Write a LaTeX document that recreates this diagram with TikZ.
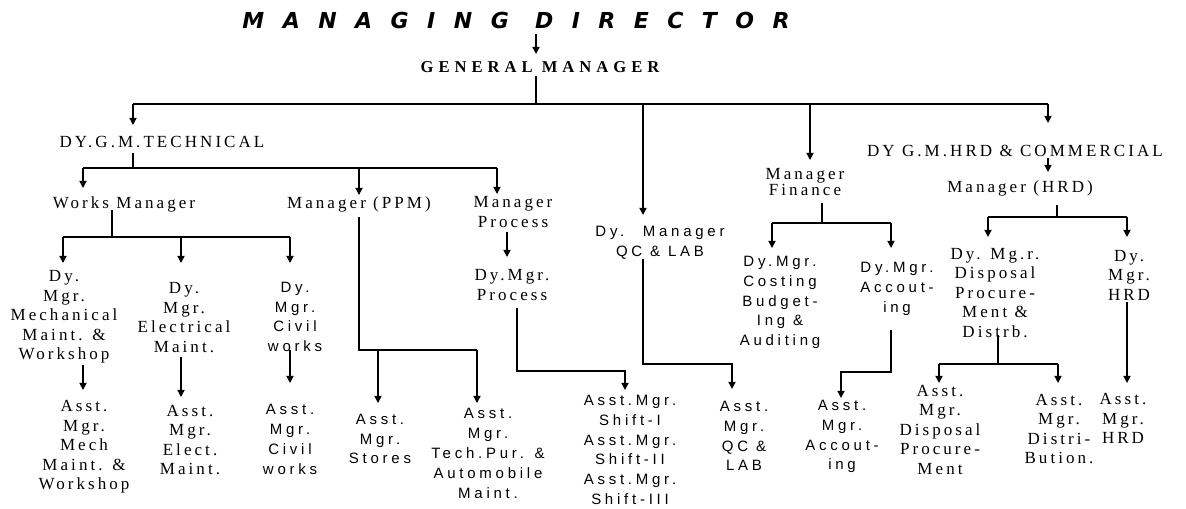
\documentclass[tikz,border=0pt]{standalone}
\usepackage{fontspec}
\setmainfont{Liberation Serif}
\newfontfamily\sfx[LetterSpace=25]{Liberation Sans}
\newfontfamily\rmx[LetterSpace=18]{Liberation Serif}
\newfontfamily\gmx[LetterSpace=30]{Liberation Serif}
\newfontfamily\mdx[LetterSpace=84]{DejaVu Sans}
\usetikzlibrary{arrows.meta}
\tikzset{
  rmt/.style={font=\rmx\fontsize{8.5}{9.75}\selectfont, align=center, inner sep=0pt},
  sft/.style={font=\sfx\fontsize{7.5}{9.9}\selectfont, align=center, inner sep=0pt},
  ln/.style={line width=0.7pt},
  arr/.style={line width=0.7pt, -{Triangle[width=3.6pt,length=3.6pt]}}
}
\begin{document}
\begin{tikzpicture}[x=0.5pt,y=-0.5pt]
\fill[white] (0,0) rectangle (1186,508);
\useasboundingbox (0,0) rectangle (1186,508);
% top
\node[inner sep=0pt, font=\mdx\bfseries\itshape\fontsize{11}{12}\selectfont] (md) at (516,20) {MANAGING DIRECTOR};
\node[inner sep=0pt, font=\gmx\bfseries\fontsize{8.3}{9}\selectfont] (gm) at (540,67) {GENERAL MANAGER};
% level 2
\node[rmt] (dgmt) at (162,142) {DY.G.M.TECHNICAL};
\node[sft] (qc) at (660,243) {Dy.~ Manager\\QC \& LAB};
\node[rmt, font=\rmx\fontsize{8.5}{7.2}\selectfont] (fin) at (805,182) {Manager\\Finance};
\node[rmt] (dgmh) at (1015,151) {DY G.M.HRD \& COMMERCIAL};
\node[rmt] (mhrd) at (1020,188) {Manager (HRD)};
% level 3
\node[rmt] (wm) at (124,204) {Works Manager};
\node[rmt] (ppm) at (359,204) {Manager (PPM)};
\node[rmt] (mp) at (513,212) {Manager\\Process};
\node[rmt] (dmp) at (512,285) {Dy.Mgr.\\Process};
% works
\node[rmt] (dmm) at (64,317) {Dy.\\Mgr.\\Mechanical\\Maint. \&\\Workshop};
\node[rmt] (dme) at (184,317.5) {Dy.\\Mgr.\\Electrical\\Maint.};
\node[sft] (dmc) at (295,317) {Dy.\\Mgr.\\Civil\\works};
\node[rmt] (amm) at (84,447) {Asst.\\Mgr.\\Mech\\Maint. \&\\Workshop};
\node[rmt] (ame) at (190,440) {Asst.\\Mgr.\\Elect.\\Maint.};
\node[sft] (amc) at (290,439.5) {Asst.\\Mgr.\\Civil\\works};
\node[sft] (ams) at (380,439) {Asst.\\Mgr.\\Stores};
\node[sft] (amt) at (488,453.5) {Asst.\\Mgr.\\Tech.Pur. \&\\Automobile\\Maint.};
\node[sft] (ash) at (630,450) {Asst.Mgr.\\Shift-I\\Asst.Mgr.\\Shift-II\\Asst.Mgr.\\Shift-III};
\node[sft] (aqc) at (744,436) {Asst.\\Mgr.\\QC \&\\LAB};
% finance
\node[sft] (dcb) at (780,302.5) {Dy.Mgr.\\Costing\\Budget-\\Ing \&\\Auditing};
\node[sft] (dac) at (897,289) {Dy.Mgr.\\Accout-\\ing};
\node[sft] (aac) at (842,436.5) {Asst.\\Mgr.\\Accout-\\ing};
% hrd
\node[rmt] (ddp) at (995,293) {Dy. Mg.r.\\Disposal\\Procure-\\Ment \&\\Distrb.};
\node[rmt] (dhrd) at (1129,275) {Dy.\\Mgr.\\HRD};
\node[rmt] (adp) at (940,429.5) {Asst.\\Mgr.\\Disposal\\Procure-\\Ment};
\node[rmt] (adi) at (1059,429) {Asst.\\Mgr.\\Distri-\\Bution.};
\node[rmt] (ahrd) at (1123,418.5) {Asst.\\Mgr.\\HRD};

% connectors
\draw[arr] (536,34) -- (536,54);
\coordinate (b1) at (536,104);
\draw[ln] (536,76) -- (b1);
\draw[ln] (133,104) -- (1048,104);
\draw[arr] (133,104) -- (133,125);
\draw[arr] (643,104) -- (643,215);
\draw[arr] (810,104) -- (810,160);
\draw[arr] (1048,104) -- (1048,123);
% technical
\draw[ln] (133,153) -- (133,168);
\draw[ln] (83,168) -- (497,168);
\draw[arr] (83,168) -- (83,188);
\draw[arr] (359,168) -- (359,195);
\draw[arr] (497,168) -- (497,194);
% works manager
\draw[ln] (112,210) -- (112,237);
\draw[ln] (63,237) -- (290,237);
\draw[arr] (63,237) -- (63,263);
\draw[arr] (181,237) -- (181,263);
\draw[arr] (290,237) -- (290,263);
\draw[arr] (83,365) -- (83,390);
\draw[arr] (181,357) -- (181,397);
\draw[arr] (290,350) -- (290,383);
% ppm
\draw[ln] (359,217) -- (359,350) -- (477,350);
\draw[arr] (378,350) -- (378,403);
\draw[arr] (477,350) -- (477,403);
% process
\draw[arr] (507,232) -- (507,257);
\draw[arr] (517,308) -- (517,371) -- (625,371) -- (625,390);
% qc
\draw[arr] (643,259) -- (643,364) -- (732,364) -- (732,389);
% finance
\draw[ln] (822,203) -- (822,223);
\draw[ln] (772,223) -- (891,223);
\draw[arr] (772,223) -- (772,248);
\draw[arr] (891,223) -- (891,248);
\draw[arr] (891,330) -- (891,372) -- (841,372) -- (841,398);
% hrd
\draw[arr] (1048,158) -- (1048,172);
\draw[ln] (1057,205) -- (1057,217);
\draw[ln] (988,217) -- (1127,217);
\draw[arr] (988,217) -- (988,237);
\draw[arr] (1127,217) -- (1127,237);
\draw[ln] (998,335) -- (998,364);
\draw[ln] (939,364) -- (1058,364);
\draw[arr] (939,364) -- (939,383);
\draw[arr] (1058,364) -- (1058,383);
\draw[arr] (1127,302) -- (1127,383);
\end{tikzpicture}
\end{document}
